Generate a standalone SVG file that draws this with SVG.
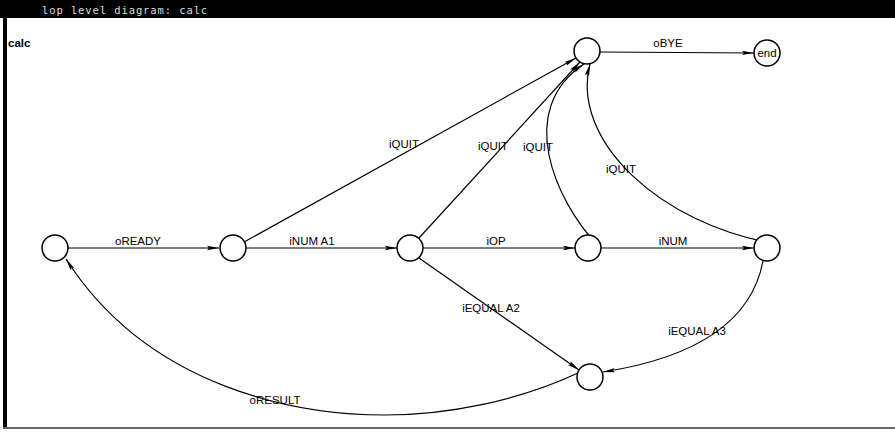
<svg xmlns="http://www.w3.org/2000/svg" width="895" height="433" viewBox="0 0 895 433">
<style>
.node{fill:#fff;stroke:#000;stroke-width:1.5}
.edge{fill:none;stroke:#000;stroke-width:1.2;marker-end:url(#ah)}
.lbl{font-family:"Liberation Sans",Arial,sans-serif;font-size:11.5px;fill:#000;text-anchor:middle}
</style>
<defs>
<marker id="ah" viewBox="0 0 12 6" refX="12" refY="3" markerWidth="12" markerHeight="6" markerUnits="userSpaceOnUse" orient="auto">
<path d="M0,0.8 L12,3 L0,5.2 L2,3 Z" fill="#000"/>
</marker>
</defs>
<rect x="0" y="0" width="895" height="433" fill="#fff"/>
<g id="frame">
<rect x="0" y="0" width="895" height="18" fill="#000"/>
<text x="42" y="14" font-family="'DejaVu Sans Mono',monospace" font-size="10.5" fill="#ddd" letter-spacing="0.9">lop level diagram:  calc</text>
<line x1="5" y1="18" x2="5" y2="428" stroke="#000" stroke-width="4"/>
<line x1="3" y1="428" x2="895" y2="428" stroke="#666" stroke-width="2"/>
<text x="8" y="47" font-family="'Liberation Sans',Arial,sans-serif" font-size="11.5" font-weight="bold">calc</text>
</g>
<g id="connectors">
<path class="edge" d="M68 248 L219 248"/>
<path class="edge" d="M246 248 L397 248"/>
<path class="edge" d="M423 248 L575 248"/>
<path class="edge" d="M601 248 L754 248"/>
<path class="edge" d="M244 242 L576 58"/>
<path class="edge" d="M419 238 L580 62"/>
<path class="edge" d="M598 246 C555 200 515 110 584 64"/>
<path class="edge" d="M777 244 C660 225 570 140 590 64"/>
<path class="edge" d="M600 52 L754 53"/>
<path class="edge" d="M419 258 L579 370"/>
<path class="edge" d="M763 261 C750 330 680 360 603 372"/>
<path class="edge" d="M578 373 C520 400 450 415 385 415 C300 415 150 390 66 259"/>
</g>
<g id="labels">
<text class="lbl" x="138" y="245">oREADY</text>
<text class="lbl" x="312" y="245">iNUM A1</text>
<text class="lbl" x="496" y="245">iOP</text>
<text class="lbl" x="673" y="245">iNUM</text>
<text class="lbl" x="404" y="148">iQUIT</text>
<text class="lbl" x="493" y="150">iQUIT</text>
<text class="lbl" x="538" y="151">iQUIT</text>
<text class="lbl" x="621" y="173">iQUIT</text>
<text class="lbl" x="668" y="47">oBYE</text>
<text class="lbl" x="491" y="312">iEQUAL A2</text>
<text class="lbl" x="697" y="335">iEQUAL A3</text>
<text class="lbl" x="275" y="404">oRESULT</text>
</g>
<g id="n0"><circle class="node" cx="55" cy="248" r="13"/></g>
<g id="n1"><circle class="node" cx="233" cy="248" r="13"/></g>
<g id="n2"><circle class="node" cx="410" cy="248" r="13"/></g>
<g id="n3"><circle class="node" cx="588" cy="248" r="13"/></g>
<g id="n4"><circle class="node" cx="767" cy="248" r="13"/></g>
<g id="top"><circle class="node" cx="587" cy="51" r="13"/></g>
<g id="end"><circle class="node" cx="767" cy="53" r="13"/><text class="lbl" x="767" y="57">end</text></g>
<g id="bottom"><circle class="node" cx="590" cy="377" r="13"/></g>
</svg>
